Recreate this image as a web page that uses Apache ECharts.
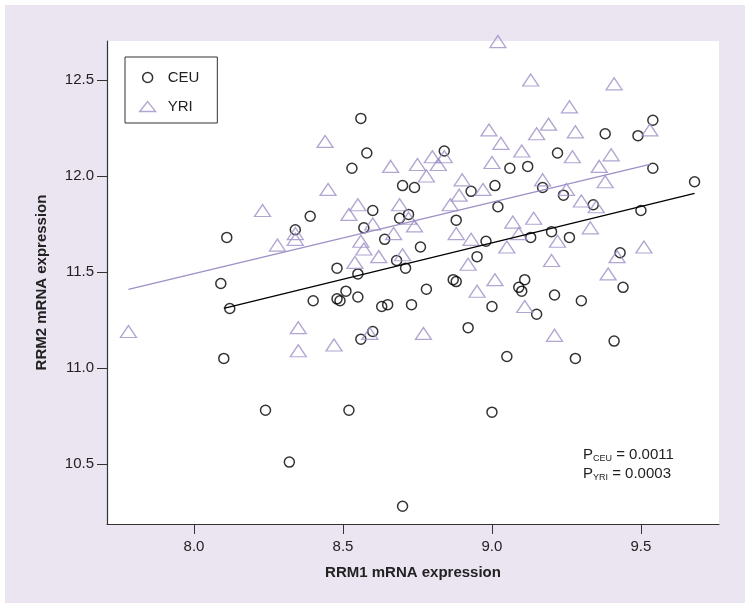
<!DOCTYPE html>
<html><head><meta charset="utf-8">
<script src="https://cdn.jsdelivr.net/npm/echarts@6/dist/echarts.min.js"></script>
<style>html,body{margin:0;padding:0;background:#fff}#c{width:751px;height:610px}</style>
</head><body><div id="c"></div>
<script>
const ceuX = [8.10,8.09,8.11,8.12,8.24,8.32,8.34,8.39,8.40,8.48,8.48,8.49,8.51,8.52,8.53,8.55,8.55,8.56,8.56,8.57,8.58,8.60,8.60,8.63,8.65,8.64,8.68,8.69,8.70,8.70,8.71,8.72,8.73,8.74,8.76,8.78,8.84,8.87,8.88,8.88,8.92,8.93,8.95,8.98,9.00,9.00,9.01,9.02,9.05,9.06,9.09,9.10,9.11,9.12,9.13,9.15,9.17,9.20,9.21,9.22,9.24,9.26,9.28,9.30,9.34,9.38,9.41,9.43,9.44,9.49,9.50,9.54,9.54,9.68];
const ceuY = [11.05,11.44,11.68,11.31,10.78,10.51,11.72,11.79,11.35,11.52,11.36,11.35,11.40,10.78,12.04,11.37,11.49,12.30,11.15,11.73,12.12,11.19,11.82,11.32,11.33,11.67,11.56,11.78,10.28,11.95,11.52,11.80,11.33,11.94,11.63,11.41,12.13,11.46,11.45,11.77,11.21,11.92,11.58,11.66,11.32,10.77,11.95,11.84,11.06,12.04,11.42,11.40,11.46,12.05,11.68,11.28,11.94,11.71,11.38,12.12,11.90,11.68,11.05,11.35,11.85,12.22,11.14,11.60,11.42,12.21,11.82,12.29,12.04,11.97];
const yriX = [7.78,8.23,8.28,8.34,8.34,8.35,8.35,8.44,8.45,8.47,8.52,8.54,8.55,8.56,8.57,8.59,8.60,8.62,8.66,8.67,8.69,8.70,8.72,8.74,8.75,8.77,8.78,8.80,8.82,8.84,8.86,8.88,8.89,8.90,8.92,8.93,8.95,8.97,8.99,9.00,9.01,9.02,9.03,9.05,9.07,9.09,9.10,9.11,9.13,9.14,9.15,9.17,9.19,9.20,9.21,9.22,9.25,9.26,9.27,9.28,9.30,9.33,9.35,9.36,9.38,9.39,9.40,9.41,9.42,9.51,9.53];
const yriY = [11.19,11.82,11.64,11.67,11.70,11.21,11.09,12.18,11.93,11.12,11.80,11.55,11.85,11.66,11.62,11.18,11.75,11.58,12.05,11.70,11.85,11.59,11.78,11.74,12.06,11.18,12.00,12.10,12.06,12.10,11.85,11.70,11.90,11.98,11.54,11.67,11.40,11.93,12.24,12.07,11.46,12.70,12.17,11.63,11.76,11.70,12.13,11.32,12.50,11.78,12.22,11.98,12.27,11.56,11.17,11.66,11.93,12.36,12.10,12.23,11.87,11.73,11.84,12.05,11.97,11.49,12.11,12.48,11.58,11.63,12.24];
const fitCEU = [[8.10,11.31],[9.68,11.91]];
const fitYRI = [[7.78,11.41],[9.53,12.06]];
const xTicks = [8.0,8.5,9.0,9.5];
const yTicks = [10.5,11.0,11.5,12.0,12.5];

const chart = echarts.init(document.getElementById('c'), null, {renderer:'canvas'});
const ceu = ceuX.map((x,i)=>[x,ceuY[i]]);
const yri = yriX.map((x,i)=>[x,yriY[i]]);
const purple = '#9f8fc6';
const font = 'Liberation Sans, Arial, Helvetica, sans-serif';
chart.setOption({
  animation:false,
  backgroundColor:'#fff',
  graphic:[{type:'rect',z:-10,silent:true,shape:{x:5,y:5,width:740,height:598},style:{fill:'#ebe5f2'}},
    {type:'text',left:583,top:445,style:{rich:{p:{fontSize:15,fontFamily:font,fill:'#222'},s:{fontSize:9,fontFamily:font,fill:'#222',padding:[9,0,0,0]}},text:'{p|P}{s|CEU}{p| = 0.0011}\n{p|P}{s|YRI}{p| = 0.0003}',lineHeight:19}}],
  grid:{left:107,right:32,top:41,bottom:86,show:true,backgroundColor:'#fff',borderWidth:0},
  legend:{orient:'vertical',left:125,top:57,padding:[13,18,9,14],itemGap:14,itemWidth:30,itemHeight:10,
    borderColor:'#333',borderWidth:1,backgroundColor:'#fff',
    textStyle:{fontSize:15,fontFamily:font,color:'#222'},
    data:[{name:'CEU',icon:'circle',itemStyle:{color:'#fff',borderColor:'#000',borderWidth:1.5}},
          {name:'YRI',icon:'path://M0,10 L8,0 L16,10 Z',itemStyle:{color:'#fff',borderColor:purple,borderWidth:1.3}}]},
  xAxis:{type:'value',min:7.708,max:9.762,interval:0.5,
    axisLine:{lineStyle:{color:'#333',width:1.2}},axisTick:{length:10,lineStyle:{color:'#333'},customValues:xTicks},
    axisLabel:{fontSize:15,fontFamily:font,color:'#222',margin:15,customValues:xTicks,formatter:v=>v.toFixed(1)},
    splitLine:{show:false},
    name:'RRM1 mRNA expression',nameLocation:'middle',nameGap:41,nameTextStyle:{fontSize:15,fontWeight:'bold',fontFamily:font,color:'#222'}},
  yAxis:{type:'value',min:10.1875,max:12.703,
    axisLine:{show:true,lineStyle:{color:'#333',width:1.2}},axisTick:{show:true,length:10,lineStyle:{color:'#333'},customValues:yTicks},
    axisLabel:{fontSize:15,fontFamily:font,color:'#222',margin:13,customValues:yTicks,formatter:v=>v.toFixed(1)},
    splitLine:{show:false},
    name:'RRM2 mRNA expression',nameLocation:'middle',nameGap:58,nameTextStyle:{fontSize:15,fontWeight:'bold',fontFamily:font,color:'#222'}},
  series:[
    {name:'CEU',type:'scatter',data:ceu,symbol:'circle',symbolSize:10,clip:false,itemStyle:{color:'rgba(255,255,255,0)',borderColor:'#000',borderWidth:1.5}},
    {name:'YRI',type:'scatter',data:yri,symbol:'triangle',symbolSize:[16,12],clip:false,itemStyle:{color:'rgba(255,255,255,0)',borderColor:purple,borderWidth:1.3}},
    {name:'CEUfit',type:'line',data:fitCEU,symbol:'none',lineStyle:{color:'#000',width:1.3},silent:true},
    {name:'YRIfit',type:'line',data:fitYRI,symbol:'none',lineStyle:{color:purple,width:1.3},silent:true}
  ]
});
</script></body></html>
